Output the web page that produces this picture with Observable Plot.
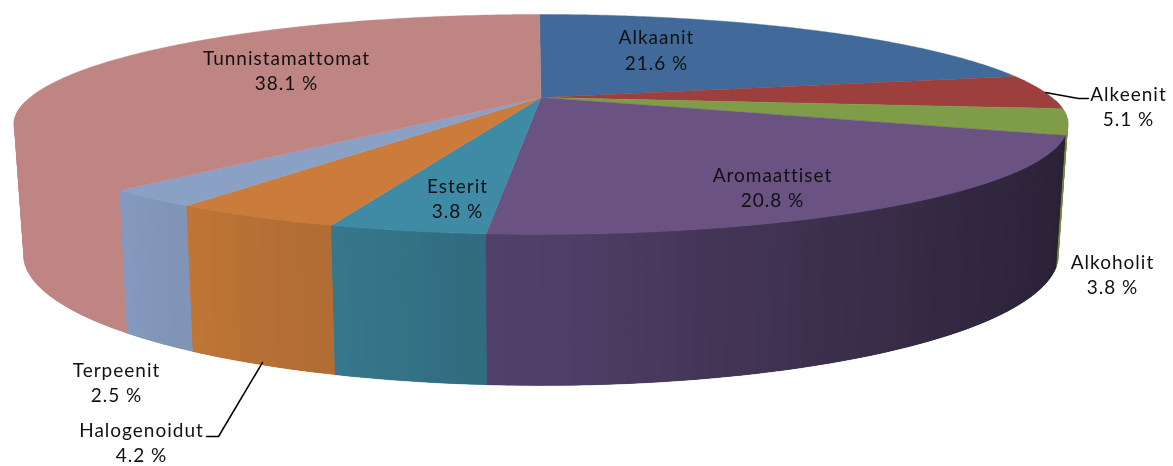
<!DOCTYPE html>
<html lang="fi">
<head>
<meta charset="utf-8">
<script src="https://cdn.jsdelivr.net/npm/d3@7"></script>
<script src="https://cdn.jsdelivr.net/npm/@observablehq/plot@0.6"></script>
<style>html,body{margin:0;padding:0;background:#fff}svg{display:block}</style>
</head>
<body>
<div id="chart"></div>
<script>
// Data
const categories = ["Alkaanit","Alkeenit","Alkoholit","Aromaattiset","Esterit","Halogenoidut","Terpeenit","Tunnistamattomat"];
const values = [21.6,5.1,3.8,20.8,3.8,4.2,2.5,38.1];
// Colours
const topColors  = ["#416a9b","#9c3f3d","#7f9c49","#6a5283","#3f8ba6","#cb7b3a","#8aa0c4","#bf8583"];
const wallStart  = ["#416a9b","#9c3f3d","#6f8a40","#2b2237","#316c80","#b06c34","#8094b8","#bf8583"];
const wallEnd    = ["#416a9b","#9c3f3d","#6f8a40","#53416b","#37798e","#c07636","#8699be","#bf8583"];
// Annotation layout, in page pixels
const labelAnchors = [[656,48.5],[1128,105],[1112,273],[772,186],[457,197],[141,441],[116,381],[286,69]];
const leaders = [
  {name:"Alkeenit", at:[[1045,92],[1078,98],[1088,98]]},
  {name:"Halogenoidut", at:[[262,362],[218,436],[206,436]]}
];
// Perspective camera of the tilted pie
const cx = 540.5, cy = 97, A = 511, B = 103.4, k = 0.245, turn = -0.2;
const floorScaleX = 0.982, floorScaleY = 123 / B, floorShift = (222 - cy) / B;

const project = deg => {
  const t = (deg + turn) * Math.PI / 180, u = Math.sin(t), v = -Math.cos(t), d = 1 - k * v;
  return {x: u / d, y: v / d, v};
};
const floor = p => ({x: p.x * floorScaleX, y: p.y * floorScaleY + floorShift});
const px = ([a, b]) => ({x: (a - cx) / A, y: (b - cy) / B});

const total = d3.sum(values);
let acc = 0;
const slices = categories.map((name, i) => {
  const a0 = acc / total * 360; acc += values[i];
  return {name, i, a0, a1: acc / total * 360};
});

// Wall: a solid underlay per slice, then overlapping shaded strips, far strips first
const underlay = [], strips = [];
for (const s of slices) {
  const from = Math.max(s.a0, 92), to = Math.min(s.a1, 268);
  if (to <= from) continue;
  const ramp = d3.interpolateRgb(wallStart[s.i], wallEnd[s.i]);
  const n = Math.max(2, Math.ceil((to - from) / 1.5)), step = (to - from) / n;
  const rim = d3.range(n + 1).map(j => project(from + step * j));
  const outline = [...rim, ...rim.slice().reverse().map(floor), rim[0]];
  underlay.push(...outline.map(p => ({id: s.name, color: ramp(0.5), x: p.x, y: p.y})));
  const xa = rim[0].x, xb = rim[n].x;
  for (let j = 0; j < n; j++) {
    let a = from + step * j, b = a + step;
    const mid = (project(a).x + project(b).x) / 2;
    const f = xb === xa ? 0 : (mid - xa) / (xb - xa);
    const depth = (project(a).v + project(b).v) / 2;
    if (a < 180) a = Math.max(from, a - step); else b = Math.min(to, b + step);
    const pa = project(a), pb = project(b);
    strips.push({id: `${s.name}-${j}`, color: ramp(f), depth, pts: [pa, pb, floor(pb), floor(pa), pa]});
  }
}
strips.sort((p, q) => p.depth - q.depth);
const wallRows = strips.flatMap(s => s.pts.map(p => ({id: s.id, color: s.color, x: p.x, y: p.y})));

// Top face slices
const topRows = slices.flatMap(s => {
  const n = Math.ceil(s.a1 - s.a0) * 2, rim = d3.range(n + 1).map(j => project(s.a0 + (s.a1 - s.a0) * j / n));
  const o = {x: 0, y: 0};
  return [o, ...rim, o].map(p => ({id: s.name, color: topColors[s.i], x: p.x, y: p.y}));
});

const labels = slices.map(s => ({
  text: `${s.name}\n${values[s.i].toFixed(1)} %`, ...px(labelAnchors[s.i])
}));
const leaderRows = leaders.flatMap(l => l.at.map(p => ({name: l.name, ...px(p)})));

const chart = Plot.plot({
  width: 1173, height: 466, margin: 0,
  x: {axis: null, domain: [-cx / A, (1173 - cx) / A], range: [0, 1173]},
  y: {axis: null, domain: [-cy / B, (466 - cy) / B], range: [0, 466]},
  color: {type: "identity"},
  style: {background: "#fff", letterSpacing: "1px", filter: "blur(0.4px)"},
  marks: [
    Plot.line(underlay, {x: "x", y: "y", z: "id", fill: "color", stroke: "color", strokeWidth: 0.5, curve: "linear"}),
    Plot.line(wallRows, {x: "x", y: "y", z: "id", fill: "color", curve: "linear", stroke: "none"}),
    Plot.line(topRows, {x: "x", y: "y", z: "id", fill: "color", stroke: "color", strokeWidth: 0.4, curve: "linear"}),
    Plot.line(leaderRows, {x: "x", y: "y", z: "name", stroke: "#000", strokeWidth: 1.5, curve: "linear"}),
    Plot.text(labels, {x: "x", y: "y", text: "text", fontFamily: "Lato", fontSize: 19, lineHeight: 1.34, fill: "#111", textAnchor: "middle", lineAnchor: "middle"})
  ]
});
document.getElementById("chart").append(chart);
</script>
</body>
</html>
